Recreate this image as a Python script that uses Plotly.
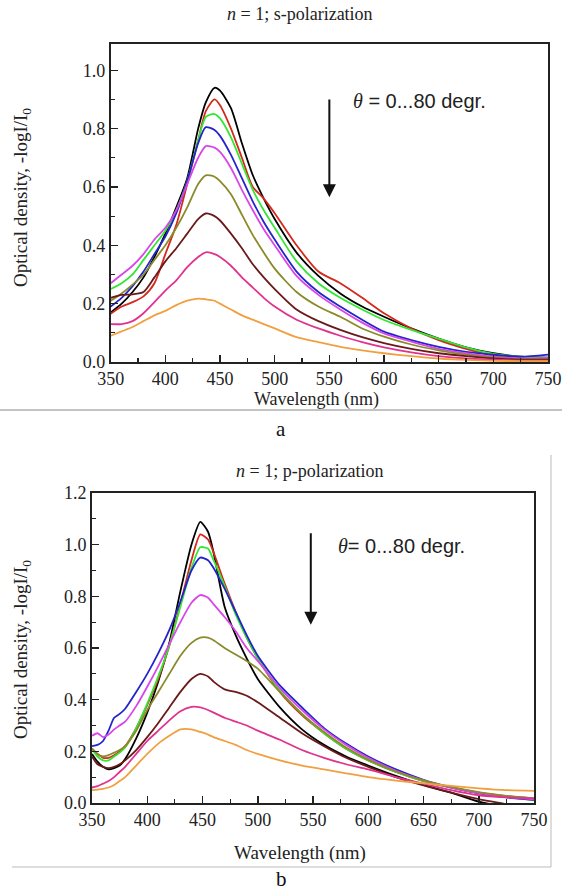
import plotly.graph_objects as go

W, H = 562, 894

# ---------------- data: panel a (s-polarization) ----------------
WL_S = [350, 360, 370, 380, 390, 400, 410, 420, 430, 437, 445, 450, 460, 470, 480, 490, 500,
        520, 540, 560, 580, 600, 625, 650, 675, 700, 725, 750]
S_BLACK = [.17, .20, .24, .29, .36, .44, .53, .63, .80, .89, .94, .93, .87, .75, .64, .56, .49,
           .375, .295, .235, .19, .155, .115, .08, .05, .03, .018, .015]
S_RED = [.165, .19, .205, .225, .27, .37, .47, .61, .76, .86, .90, .88, .80, .70, .60, .56, .51,
         .40, .31, .27, .22, .167, .115, .075, .045, .022, .01, .012]
S_GREEN = [.25, .27, .30, .35, .40, .45, .52, .62, .76, .84, .85, .835, .77, .68, .59, .52, .46,
           .345, .27, .22, .18, .144, .11, .08, .05, .028, .018, .015]
S_BLUE = [.19, .22, .26, .31, .37, .43, .51, .62, .75, .805, .795, .775, .71, .63, .55, .48, .42,
          .31, .24, .19, .145, .104, .075, .052, .035, .025, .018, .025]
S_MAGENTA = [.27, .30, .33, .37, .42, .46, .52, .61, .70, .74, .735, .72, .665, .59, .52, .455, .40,
             .295, .23, .18, .135, .098, .07, .045, .03, .018, .012, .015]
S_OLIVE = [.21, .235, .265, .30, .35, .40, .46, .53, .61, .64, .635, .62, .575, .505, .435, .375, .32,
           .24, .19, .155, .115, .087, .06, .04, .025, .015, .01, .01]
S_MAROON = [.22, .23, .232, .24, .29, .345, .39, .44, .49, .509, .50, .485, .44, .39, .335, .29, .25,
            .18, .14, .11, .085, .065, .045, .03, .02, .012, .008, .008]
S_PINK = [.13, .13, .14, .167, .205, .245, .28, .325, .36, .376, .37, .36, .33, .29, .255, .22, .19,
          .145, .115, .09, .068, .05, .033, .02, .012, .008, .005, .005]
S_ORANGE = [.09, .105, .12, .14, .16, .175, .195, .21, .217, .215, .21, .20, .18, .16, .145, .13, .115,
            .085, .068, .052, .04, .03, .02, .012, .007, .004, .003, .003]

# ---------------- data: panel b (p-polarization) ----------------
WL_P = [350, 355, 360, 365, 370, 375, 380, 390, 400, 410, 420, 430, 440, 448, 455, 460, 470, 480,
        490, 500, 520, 540, 560, 580, 600, 625, 650, 675, 700, 725, 750]
P_BLACK = [.19, .16, .14, .13, .135, .145, .17, .25, .35, .47, .62, .82, 1.00, 1.088, 1.05, .97, .76, .65,
           .56, .48, .37, .285, .225, .18, .145, .105, .07, .04, .005, -.015, -.03]
P_RED = [.21, .19, .175, .175, .185, .20, .22, .29, .38, .48, .61, .77, .94, 1.04, 1.02, .97, .85, .74,
         .64, .56, .43, .34, .27, .21, .165, .12, .085, .06, .04, .027, .017]
P_GREEN = [.21, .18, .165, .165, .18, .195, .215, .29, .385, .49, .61, .76, .91, .99, .985, .94, .84, .73,
           .64, .56, .435, .345, .27, .21, .165, .12, .085, .06, .04, .024, .01]
P_BLUE = [.22, .225, .24, .28, .33, .345, .365, .43, .50, .58, .67, .78, .90, .95, .94, .91, .83, .74,
          .65, .57, .455, .37, .29, .23, .18, .13, .09, .06, .037, .022, .012]
P_MAGENTA = [.26, .27, .255, .265, .285, .30, .315, .375, .45, .53, .615, .70, .775, .805, .795, .77, .72, .665,
             .60, .55, .445, .36, .285, .225, .175, .125, .088, .06, .038, .024, .014]
P_OLIVE = [.21, .19, .18, .185, .195, .205, .22, .28, .36, .43, .50, .57, .62, .64, .64, .63, .60, .575,
           .55, .52, .43, .345, .275, .215, .168, .122, .088, .062, .042, .028, .018]
P_MAROON = [.18, .15, .14, .135, .14, .15, .165, .205, .255, .31, .37, .43, .48, .50, .49, .47, .44, .43,
            .415, .39, .33, .27, .22, .175, .14, .10, .068, .04, .015, -.005, -.03]
P_PINK = [.06, .065, .075, .085, .10, .12, .14, .19, .24, .28, .32, .355, .372, .37, .36, .35, .33, .315,
          .30, .28, .245, .205, .175, .15, .13, .10, .075, .05, .03, .022, .018]
P_ORANGE = [.05, .052, .055, .06, .07, .085, .10, .145, .19, .23, .26, .285, .285, .275, .265, .255, .24, .225,
            .205, .19, .165, .145, .13, .115, .10, .087, .076, .066, .057, .05, .047]

COLORS = ["#000000", "#d42a1e", "#33e633", "#2424cc", "#d946e8",
          "#8a8a2a", "#6b1a1a", "#e0338f", "#f0a040"]
S_SERIES = [S_BLACK, S_RED, S_GREEN, S_BLUE, S_MAGENTA, S_OLIVE, S_MAROON, S_PINK, S_ORANGE]
P_SERIES = [P_BLACK, P_RED, P_GREEN, P_BLUE, P_MAGENTA, P_OLIVE, P_MAROON, P_PINK, P_ORANGE]

X_TICKS = [350, 400, 450, 500, 550, 600, 650, 700, 750]

SERIF = "Liberation Serif, Times New Roman, serif"
SANS = "Liberation Sans, Arial, sans-serif"


def px(x):
    return x / W


def py(y):
    return 1 - y / H


fig = go.Figure()
for ys, c in zip(S_SERIES, COLORS):
    fig.add_trace(go.Scatter(x=WL_S, y=ys, mode="lines", xaxis="x", yaxis="y",
                             line=dict(color=c, width=1.8, shape="spline", smoothing=0.7),
                             showlegend=False, hoverinfo="skip"))
for ys, c in zip(P_SERIES, COLORS):
    fig.add_trace(go.Scatter(x=WL_P, y=ys, mode="lines", xaxis="x2", yaxis="y2",
                             line=dict(color=c, width=1.8, shape="spline", smoothing=0.6),
                             showlegend=False, hoverinfo="skip"))

tickfont = dict(family=SERIF, size=18, color="#222")


def xax(domain, anchor):
    return dict(domain=domain, anchor=anchor, range=[350, 750], tickvals=X_TICKS,
                automargin=False,
                ticks="inside", ticklen=7, tickwidth=1.5, tickcolor="#222",
                minor=dict(ticks="inside", ticklen=4, tickwidth=1.2, tickcolor="#222",
                           dtick=25, tick0=350),
                showline=True, linewidth=1.8, linecolor="#222", mirror=True,
                showgrid=False, zeroline=False, tickfont=tickfont)


def yax(domain, anchor, top, tickvals):
    return dict(domain=domain, anchor=anchor, range=[0, top], tickvals=tickvals,
                tickformat=".1f", automargin=False,
                ticks="inside", ticklen=7, tickwidth=1.5, tickcolor="#222",
                minor=dict(ticks="inside", ticklen=4, tickwidth=1.2, tickcolor="#222",
                           dtick=0.1, tick0=0),
                showline=True, linewidth=1.8, linecolor="#222", mirror=True,
                showgrid=False, zeroline=False, tickfont=tickfont)


fig.update_layout(
    template="none",
    width=W, height=H, autosize=False,
    margin=dict(l=0, r=0, t=0, b=0, autoexpand=False),
    paper_bgcolor="white", plot_bgcolor="white",
    xaxis=xax([px(110.7), px(548)], "y"),
    yaxis=yax([py(362), py(44)], "x", 1.09, [0, 0.2, 0.4, 0.6, 0.8, 1.0]),
    xaxis2=xax([px(92), px(534)], "y2"),
    yaxis2=yax([py(803), py(493)], "x2", 1.2, [0, 0.2, 0.4, 0.6, 0.8, 1.0, 1.2]),
)

ann = []
# titles
ann.append(dict(text="<i>n</i> = 1; s-polarization", x=px(300), y=py(14), xref="paper", yref="paper",
                showarrow=False, font=dict(family=SERIF, size=18, color="#222"), xanchor="center", yanchor="middle"))
ann.append(dict(text="<i>n</i> = 1; p-polarization", x=px(310), y=py(471), xref="paper", yref="paper",
                showarrow=False, font=dict(family=SERIF, size=18, color="#222"), xanchor="center", yanchor="middle"))
# x titles
ann.append(dict(text="Wavelength (nm)", x=px(316), y=py(399), xref="paper", yref="paper",
                showarrow=False, font=dict(family=SERIF, size=18, color="#222"), xanchor="center", yanchor="middle"))
ann.append(dict(text="Wavelength (nm)", x=px(300), y=py(853), xref="paper", yref="paper",
                showarrow=False, font=dict(family=SERIF, size=19, color="#222"), xanchor="center", yanchor="middle"))
# y titles
ann.append(dict(text="Optical density, -logI/I<sub>0</sub>", x=px(22), y=py(198), xref="paper", yref="paper",
                showarrow=False, textangle=-90, font=dict(family=SERIF, size=19, color="#222"),
                xanchor="center", yanchor="middle"))
ann.append(dict(text="Optical density, -logI/I<sub>0</sub>", x=px(22), y=py(650), xref="paper", yref="paper",
                showarrow=False, textangle=-90, font=dict(family=SERIF, size=19, color="#222"),
                xanchor="center", yanchor="middle"))
# panel labels
ann.append(dict(text="a", x=px(281), y=py(429), xref="paper", yref="paper", showarrow=False,
                font=dict(family=SERIF, size=21, color="#111"), xanchor="center", yanchor="middle"))
ann.append(dict(text="b", x=px(281), y=py(879), xref="paper", yref="paper", showarrow=False,
                font=dict(family=SERIF, size=21, color="#111"), xanchor="center", yanchor="middle"))
# theta labels
theta = '<span style="font-family:Liberation Serif"><i>θ</i></span>'
ann.append(dict(text=theta + " = 0...80 degr.", x=px(351), y=py(101), xref="paper", yref="paper",
                showarrow=False, font=dict(family=SANS, size=20, color="#222"), xanchor="left", yanchor="middle"))
ann.append(dict(text=theta + "= 0...80 degr.", x=px(336), y=py(546), xref="paper", yref="paper",
                showarrow=False, font=dict(family=SANS, size=20, color="#222"), xanchor="left", yanchor="middle"))
# arrows (data coordinates)
ann.append(dict(x=550, y=0.565, ax=550, ay=0.905, xref="x", yref="y", axref="x", ayref="y",
                text="", showarrow=True, arrowhead=2, arrowsize=1.3, arrowwidth=2, arrowcolor="#111"))
ann.append(dict(x=548, y=0.69, ax=548, ay=1.05, xref="x2", yref="y2", axref="x2", ayref="y2",
                text="", showarrow=True, arrowhead=2, arrowsize=1.3, arrowwidth=2, arrowcolor="#111"))
fig.update_layout(annotations=ann)

shapes = [
    dict(type="line", xref="paper", yref="paper", x0=0, x1=1, y0=py(410), y1=py(410),
         line=dict(color="#888", width=1.2)),
    dict(type="line", xref="paper", yref="paper", x0=px(551), x1=px(551), y0=py(455), y1=py(867),
         line=dict(color="#bbb", width=1)),
    dict(type="line", xref="paper", yref="paper", x0=px(12), x1=px(551), y0=py(867), y1=py(867),
         line=dict(color="#bbb", width=1)),
]
fig.update_layout(shapes=shapes)

fig.write_html("out.html",
               config={"displayModeBar": False, "staticPlot": True},
               post_script="document.body.style.margin='0';document.body.style.padding='0';"
                           "document.body.style.overflow='hidden';")
